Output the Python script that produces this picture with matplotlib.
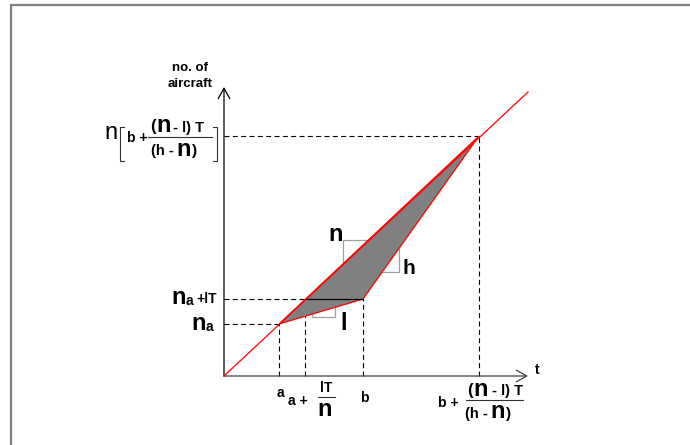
import matplotlib
matplotlib.use("Agg")
import matplotlib.pyplot as plt
from matplotlib.lines import Line2D
from matplotlib.patches import Polygon, Rectangle

plt.rcParams['font.family'] = ['Liberation Sans', 'DejaVu Sans']
plt.rcParams['lines.scale_dashes'] = False

# ---- data (axis units, origin at the axes' corner) ----
a, n_a = 55, 52               # arrival of point a
a_lT, na_lT = 81, 77          # a + lT/n , n_a + lT
b = 139                       # time b
top_x, top_y = 255, 240       # b + (n-l)T/(h-n)
line_end = (304, 284)         # end of the cumulative-arrival (slope n) line
x_axis_end, y_axis_end = 304, 289

shaded_x = [a, b, top_x]
shaded_y = [n_a, na_lT, top_y]

# slope indicator boxes: (x0, y0, width, height)
slope_boxes = [(119, 114, 26, 22), (150, 104, 25, 23), (88, 59, 23, 11)]

W, H = 690, 445
fig = plt.figure(figsize=(W / 100, H / 100), dpi=100)
ox, oy = 224, 376
ax = fig.add_axes([ox / W, (H - oy) / H, 303 / W, 288 / H])
ax.set_xlim(0, 303)
ax.set_ylim(0, 288)
ax.axis('off')

def ftext(px, py, s, size, weight='bold', ha='center', va='center', **kw):
    fig.text(px / W, 1 - py / H, s, fontsize=size, fontweight=weight,
             ha=ha, va=va, **kw)

def fline(xs, ys, color='black', lw=0.8):
    fig.add_artist(Line2D([x / W for x in xs], [1 - y / H for y in ys],
                          color=color, lw=lw, transform=fig.transFigure))

# figure frame (top and left edges visible)
fig.add_artist(Rectangle((10.5 / W, -0.1), 1.2, 1 - 5.5 / H + 0.1,
                         transform=fig.transFigure, fill=False,
                         edgecolor='#7f7f7f', lw=1.6))

# slope boxes (under polygon)
for (x0, y0, w, h) in slope_boxes:
    ax.add_patch(Rectangle((x0, y0), w, h, fill=False, edgecolor='#a0a0a0',
                           lw=0.9, zorder=1, clip_on=False))

# dashed guides
dash = (0, (3.6, 2.4))
kw = dict(color='black', lw=0.8, linestyle=dash, zorder=2, clip_on=False)
ax.plot([0, a], [n_a, n_a], **kw)
ax.plot([a, a], [0, n_a], **kw)
ax.plot([0, a_lT], [na_lT, na_lT], **kw)
ax.plot([a_lT, a_lT], [0, na_lT], **kw)
ax.plot([b, b], [0, na_lT], **kw)
ax.plot([0, top_x], [top_y, top_y], **kw)
ax.plot([top_x, top_x], [0, top_y], **kw)

# shaded region
ax.add_patch(Polygon(list(zip(shaded_x, shaded_y)), closed=True,
                     facecolor='#808080', edgecolor='red', lw=0.9, zorder=3))
ax.plot([a_lT, b], [na_lT, na_lT], color='black', lw=0.9, zorder=4)

# arrival line (slope n)
ax.plot([0, line_end[0]], [0, line_end[1]], color='red', lw=0.9, zorder=5,
        clip_on=False)

# axes with open arrowheads
ap = dict(arrowstyle='->,head_length=0.75,head_width=0.42', lw=0.9,
          shrinkA=0, shrinkB=0, mutation_scale=10)
ax.annotate('', xy=(x_axis_end, 0), xytext=(0, 0),
            arrowprops=dict(color='#404040', **ap), annotation_clip=False)
ax.annotate('', xy=(0, y_axis_end), xytext=(0, 0),
            arrowprops=dict(color='black', **ap), annotation_clip=False)

# axis titles
ftext(190, 68, 'no. of', 9.5)
ftext(190, 84, 'aircraft', 9.5)
ftext(537, 370, 't', 10)

# slope labels
ftext(336, 235, 'n', 17)
ftext(409, 268, 'h', 15)
ftext(344, 324, 'l', 17)

# y labels
ftext(199, 324, 'n', 17)
ftext(209, 327, 'a', 10)
ftext(179, 298, 'n', 17)
ftext(189, 301, 'a', 10)
ftext(207, 299, '+lT', 10)

# top-left y label
ftext(111, 133, 'n', 17, weight='normal')
fline([124, 120, 120, 124], [127, 127, 161, 161], color='#333333', lw=0.8)
fline([213, 217, 217, 213], [127, 127, 161, 161], color='#333333', lw=0.8)
ftext(137, 138, 'b +', 10)
# numerator (n - l) T
ftext(153, 127, '(', 12)
ftext(164, 126, 'n', 17)
ftext(189, 128, '- l) T', 10.5)
fline([148, 212], [137, 137], color='#333333', lw=0.8)
# denominator (h - n)
ftext(162, 151, '(h -', 10.5)
ftext(184, 149, 'n', 17)
ftext(195, 151, ')', 11)

# x labels
ftext(280, 393, 'a', 10)
ftext(298, 401, 'a +', 10)
ftext(326, 388, 'lT', 10)
fline([318, 335], [397, 397], color='#333333', lw=0.8)
ftext(325, 409, 'n', 17)
ftext(364, 398, 'b', 10)

ftext(448, 403, 'b +', 10)
ftext(470, 390, '(', 12)
ftext(481, 389, 'n', 17)
ftext(507, 391, '- l) T', 10.5)
fline([466, 523], [400, 400], color='#333333', lw=0.8)
ftext(476, 414, '(h -', 10.5)
ftext(498, 412, 'n', 17)
ftext(509, 414, ')', 11)

fig.savefig('out.png', dpi=100)
